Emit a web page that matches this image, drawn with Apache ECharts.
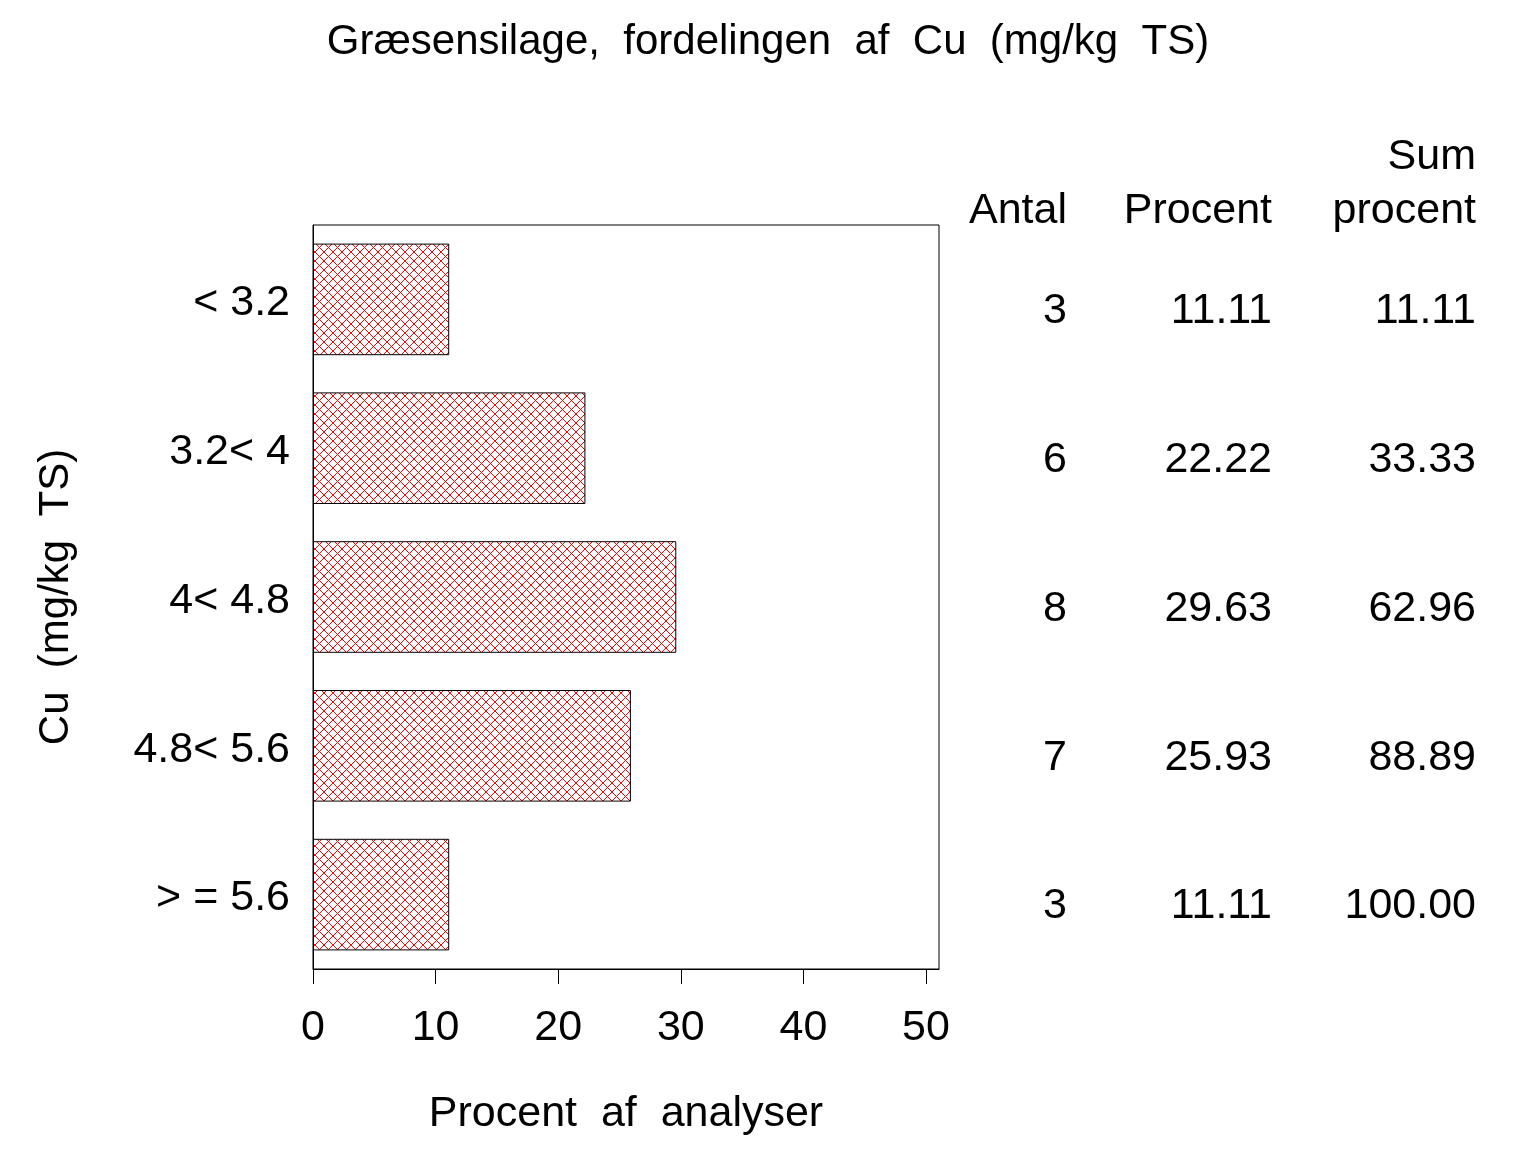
<!DOCTYPE html>
<html>
<head>
<meta charset="utf-8">
<script src="https://cdn.jsdelivr.net/npm/echarts@6/dist/echarts.min.js"></script>
<style>
  html, body { margin: 0; padding: 0; background: #fff; }
  #chart { width: 1536px; height: 1152px; }
</style>
</head>
<body>
<div id="chart"></div>
<script>
// Cu distribution data
const categories = ['< 3.2', '3.2< 4', '4< 4.8', '4.8< 5.6', '> = 5.6'];
const percent = [11.11, 22.22, 29.63, 25.93, 11.11];
const antal = ['3', '6', '8', '7', '3'];
const procentLabels = ['11.11', '22.22', '29.63', '25.93', '11.11'];
const sumProcent = ['11.11', '33.33', '62.96', '88.89', '100.00'];
const xTicks = [0, 10, 20, 30, 40, 50];

const FONT = '"Liberation Sans", Arial, sans-serif';

// red crosshatch fill
function makeHatch() {
    const c = document.createElement('canvas');
    c.width = 9; c.height = 9;
    const ctx = c.getContext('2d');
    ctx.fillStyle = '#fff';
    ctx.fillRect(0, 0, 9, 9);
    ctx.strokeStyle = '#ff0000';
    ctx.lineWidth = 1;
    ctx.beginPath();
    ctx.moveTo(0, 0); ctx.lineTo(9, 9);
    ctx.moveTo(9, 0); ctx.lineTo(0, 9);
    ctx.stroke();
    return c;
}

// one invisible right-side category axis per table column
function tableAxis(values, margin) {
    return {
        type: 'category',
        data: values,
        inverse: true,
        position: 'right',
        gridIndex: 0,
        axisLine: { show: false },
        axisTick: { show: false },
        splitLine: { show: false },
        axisLabel: {
            margin: margin,
            align: 'right',
            formatter: v => '{v|' + v + '}',
            rich: {
                v: { padding: [24, 0, 0, 0], fontSize: 43, fontFamily: FONT, color: '#000' }
            }
        }
    };
}

const chart = echarts.init(document.getElementById('chart'));

const headStyle = { fontSize: 43, fontFamily: FONT, fill: '#000', textAlign: 'right', textVerticalAlign: 'middle' };

chart.setOption({
    animation: false,
    backgroundColor: '#fff',
    title: {
        text: 'Græsensilage,  fordelingen  af  Cu  (mg/kg  TS)',
        left: 'center',
        top: 16,
        textStyle: { fontSize: 42, fontWeight: 'normal', fontFamily: FONT, color: '#000' }
    },
    grid: {
        left: 313, right: 597, top: 225, bottom: 183,
        show: true, borderColor: '#000', borderWidth: 1, backgroundColor: 'transparent'
    },
    xAxis: {
        type: 'value',
        min: 0,
        max: 51.06,
        interval: 10,
        name: 'Procent  af  analyser',
        nameLocation: 'middle',
        nameGap: 124,
        nameTextStyle: { fontSize: 43, fontFamily: FONT, color: '#000', verticalAlign: 'top' },
        axisLine: { show: true, lineStyle: { color: '#000', width: 1 } },
        axisTick: { show: true, inside: false, length: 15, lineStyle: { color: '#000' }, customValues: xTicks },
        axisLabel: { margin: 38, fontSize: 43, fontFamily: FONT, color: '#000', customValues: xTicks },
        splitLine: { show: false }
    },
    yAxis: [
        {
            type: 'category',
            data: categories,
            inverse: true,
            name: 'Cu  (mg/kg  TS)',
            nameLocation: 'middle',
            nameGap: 236,
            nameRotate: 90,
            nameTextStyle: { fontSize: 42, fontFamily: FONT, color: '#000' },
            axisLine: { show: true, lineStyle: { color: '#000', width: 1 } },
            axisTick: { show: false },
            axisLabel: {
                margin: 23,
                formatter: v => '{v|' + v + '}',
                rich: {
                    v: { padding: [8, 0, 0, 0], fontSize: 43, fontFamily: FONT, color: '#000' }
                }
            }
        },
        tableAxis(antal, 128),
        tableAxis(procentLabels, 333),
        tableAxis(sumProcent, 537)
    ],
    series: [{
        type: 'bar',
        data: percent,
        yAxisIndex: 0,
        barCategoryGap: '25%',
        itemStyle: {
            color: { image: makeHatch(), repeat: 'repeat' },
            borderColor: '#000',
            borderWidth: 1
        }
    }],
    graphic: [
        { type: 'text', x: 1067, y: 211, style: Object.assign({ text: 'Antal' }, headStyle) },
        { type: 'text', x: 1272, y: 211, style: Object.assign({ text: 'Procent' }, headStyle) },
        { type: 'text', x: 1476, y: 157, style: Object.assign({ text: 'Sum' }, headStyle) },
        { type: 'text', x: 1476, y: 211, style: Object.assign({ text: 'procent' }, headStyle) }
    ]
});
</script>
</body>
</html>
